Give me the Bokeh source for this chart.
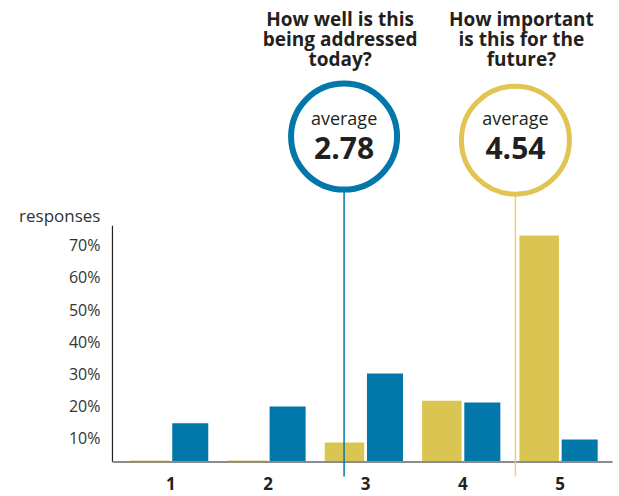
from bokeh.plotting import figure
from bokeh.models import Range1d, FixedTicker, ColumnDataSource
from bokeh.core.properties import value
from bokeh.embed import file_html
from bokeh.resources import INLINE

# ---------------- data ----------------
categories = [1, 2, 3, 4, 5]
# share of responses (%) per rating
important_future = [3.1, 3.1, 8.7, 21.7, 73.0]   # "How important is this for the future?"
addressed_today = [14.7, 19.9, 30.1, 21.1, 9.6]  # "How well is this being addressed today?"
averages = [2.78, 4.54]                          # today, future
average_labels = ["2.78", "4.54"]
title_today = ["How well is this", "being addressed", "today?"]
title_future = ["How important", "is this for the", "future?"]
y_ticks = [10, 20, 30, 40, 50, 60, 70]
y_tick_labels = ["10%", "20%", "30%", "40%", "50%", "60%", "70%"]
y_axis_name = "responses"

# ---------------- style ----------------
BLUE = "#0277aa"
YELLOW = "#dbc552"
YELLOW_RING = "#e2c455"
YELLOW_LINE = "#e8cf7e"
TEXT = "#231f20"
FONT = "Open Sans"

X_LEFT, X_RIGHT = 0.401, 5.537   # extent of the drawn axes
BASE = 2.64          # value at which the drawn baseline sits
AXIS_TOP = 76        # top of the vertical axis line
LINE_BOTTOM = -1.86  # where the average lines stop below the baseline
CIRCLE_Y = [103.7, 102.6]
TITLE_Y = 140.3
AVG_WORD_Y = 109.5
AVG_NUM_Y = 100.0

p = figure(width=619, height=496, output_backend="svg", toolbar_location=None,
           x_range=Range1d(-0.749, 5.609), y_range=Range1d(-8.07, 145.96),
           min_border_left=0, min_border_right=0, min_border_top=0, min_border_bottom=0)
p.outline_line_color = None
p.grid.visible = False
p.background_fill_color = "white"
p.border_fill_color = "white"

# bars
p.vbar(x=[c - 0.216 for c in categories], top=important_future, bottom=BASE,
       width=0.406, fill_color=YELLOW, line_color=None)
p.vbar(x=[c + 0.2 for c in categories], top=addressed_today, bottom=BASE,
       width=0.37, fill_color=BLUE, line_color=None)

# axis lines
p.segment(x0=[X_LEFT], y0=[BASE], x1=[X_LEFT], y1=[AXIS_TOP],
          line_color=TEXT, line_width=1.2)
p.segment(x0=[X_LEFT], y0=[BASE], x1=[X_RIGHT], y1=[BASE],
          line_color="#8c8c8c", line_width=2)

# average lines
p.segment(x0=averages, y0=[LINE_BOTTOM] * 2, x1=averages, y1=CIRCLE_Y,
          line_color=[BLUE, YELLOW_LINE], line_width=1.5)

# circles
p.scatter(x=averages, y=CIRCLE_Y, size=[106, 108], marker="circle",
          fill_color="white", line_color=[BLUE, YELLOW_RING], line_width=[6, 5])

p.text(x=averages, y=[AVG_WORD_Y] * 2, text=["average"] * 2, text_align="center",
       text_baseline="middle", text_font=value(FONT), text_font_size="18px",
       text_color=TEXT)
p.text(x=averages, y=[AVG_NUM_Y] * 2, text=average_labels, text_align="center",
       text_baseline="middle", text_font=value(FONT), text_font_size="30px",
       text_font_style="bold", text_color=TEXT)

# titles
tx, ty, tt, txo, tyo = [], [], [], [], []
for avg, lines, xo in zip(averages, [title_today, title_future], [-4, 6]):
    for i, line in enumerate(lines):
        tx.append(avg); ty.append(TITLE_Y); tt.append(line)
        txo.append(xo); tyo.append(20 * i)
src = ColumnDataSource(dict(x=tx, y=ty, text=tt, xo=txo, yo=tyo))
p.text(x="x", y="y", text="text", x_offset="xo", y_offset="yo", source=src,
       text_align="center", text_baseline="middle", text_font=value(FONT),
       text_font_size="19px", text_font_style="bold", text_color=TEXT)

# y axis title
p.text(x=[X_LEFT], y=[79.3], text=[y_axis_name], x_offset=-12, text_align="right",
       text_baseline="middle", text_font=value(FONT), text_font_size="17px",
       text_color="#333333")

# axes
xa = p.xaxis[0]
xa.fixed_location = BASE
xa.ticker = FixedTicker(ticks=categories)
xa.axis_line_color = None
xa.major_tick_in = 0
xa.major_tick_out = 0
xa.minor_tick_line_color = None
xa.major_label_standoff = 15
xa.major_label_text_font = FONT
xa.major_label_text_font_size = "17px"
xa.major_label_text_font_style = "bold"
xa.major_label_text_color = TEXT

ya = p.yaxis[0]
ya.fixed_location = X_LEFT
ya.ticker = FixedTicker(ticks=y_ticks)
ya.major_label_overrides = dict(zip(y_ticks, y_tick_labels))
ya.axis_line_color = None
ya.major_tick_in = 0
ya.major_tick_out = 0
ya.minor_tick_line_color = None
ya.major_label_standoff = 12
ya.major_label_text_font = FONT
ya.major_label_text_font_size = "16px"
ya.major_label_text_color = "#333333"

open("out.html", "w").write(file_html(p, INLINE))
